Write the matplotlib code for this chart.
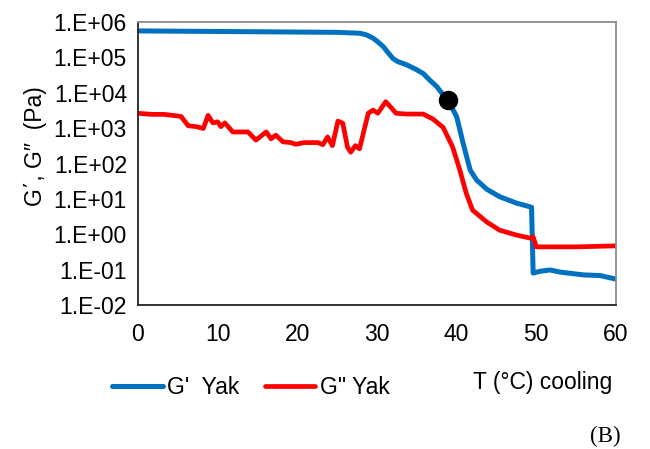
import numpy as np
import matplotlib
matplotlib.use("Agg")
import matplotlib.pyplot as plt
from matplotlib.ticker import FixedLocator

plt.rcParams['font.family'] = ['Liberation Sans', 'DejaVu Sans']

# storage modulus G' (Pa) vs temperature on cooling
t_g1 = [0, 5, 10, 15, 20, 25, 27.9, 28.7, 29.5, 30.1, 30.8, 31.4, 32.0, 32.6,
        33.7, 34.8, 35.8, 36.6, 37.5, 38.2, 38.9, 40.0, 40.4, 40.8, 41.7,
        42.5, 43.8, 45.4, 47.5, 49.4, 49.6, 50.5, 51.7, 53.0, 55.9, 58.0,
        60.0]
g1 = [5.6e5, 5.5e5, 5.4e5, 5.3e5, 5.2e5, 5.1e5, 4.8e5, 4.3e5, 3.5e5, 2.75e5,
      2.0e5, 1.35e5, 9.3e4, 7.6e4, 6.2e4, 4.7e4, 3.5e4, 2.3e4, 1.5e4, 9.3e3,
      6.3e3, 2.1e3, 9.0e2, 3.8e2, 65, 34, 18.6, 11.5, 7.6, 5.8, 0.08, 0.09,
      0.098, 0.085, 0.071, 0.068, 0.054]

# loss modulus G'' (Pa)
t_g2 = [0, 1.7, 3.3, 5.4, 6.3, 7.3, 8.2, 8.8, 9.4, 10.0, 10.4, 10.9, 11.9, 13.8,
        14.8, 16.1, 16.7, 17.3, 18.2, 19.2, 19.8, 20.9, 22.6, 23.2, 23.8, 24.4,
        25.1, 25.7, 26.3, 26.7, 27.3, 27.8, 28.9, 29.5, 30.1, 31.1, 32.4, 33.7,
        35.8, 37.0, 38.3, 39.5, 40.4, 41.2, 42.0, 43.8, 45.4, 47.5, 49.2, 49.6,
        50.0, 55.0, 60.0]
g2 = [2630, 2450, 2450, 2140, 1170, 1100, 980, 2290, 1410, 1510, 1100, 1410,
      780, 780, 460, 780, 500, 630, 410, 390, 350, 390, 390, 340, 560, 320,
      1580, 1380, 290, 210, 320, 260, 2630, 3240, 2630, 5600, 2630, 2500,
      2500, 1820, 1050, 290, 65, 14.5, 4.8, 2.2, 1.3, 0.95, 0.78, 0.83,
      0.44, 0.44, 0.47]

# gel point (crossover marker)
t_gel = 38.9
g_gel = 6.3e3

decades = [1e-2, 1e-1, 1e0, 1e1, 1e2, 1e3, 1e4, 1e5, 1e6]
decade_labels = ['1.E-02', '1.E-01', '1.E+00', '1.E+01', '1.E+02',
                 '1.E+03', '1.E+04', '1.E+05', '1.E+06']

fig = plt.figure(figsize=(6.5, 4.49), dpi=100)
ax = fig.add_axes([0.2123, 0.3207, 0.7354, 0.6303])

ax.plot(t_g1, g1, color='#0070C0', lw=3.6, solid_joinstyle='round',
        solid_capstyle='round', label="G'  Yak")
ax.plot(t_g2, g2, color='#FF0000', lw=3.4, solid_joinstyle='round',
        solid_capstyle='round', label='G" Yak')
ax.plot([t_gel], [g_gel], 'o', color='black', markersize=13, zorder=5)

ax.set_yscale('log')
ax.set_xlim(0, 60)
ax.set_ylim(1e-2, 1e6)
ax.set_xticks(range(0, 61, 10))
ax.yaxis.set_major_locator(FixedLocator(decades))
ax.yaxis.set_minor_locator(FixedLocator([]))
ax.set_yticklabels(decade_labels)
ax.tick_params(length=0, labelsize=16.5, pad=8)
ax.tick_params(axis='x', pad=13)

for side in ['top', 'right']:
    ax.spines[side].set_color('#8C8C8C')
for side in ['left', 'bottom']:
    ax.spines[side].set_color('#222222')
for s in ax.spines.values():
    s.set_linewidth(1.3)

ax.set_ylabel('G΄, G″  (Pa)', fontsize=16.5, labelpad=2)
ax.yaxis.set_label_coords(-0.19, 0.56)

fig.legend(loc='center left', bbox_to_anchor=(0.155, 0.137), ncol=2,
           frameon=False, fontsize=16.5, handlelength=2.2, handletextpad=0.2,
           columnspacing=1.1, borderpad=0)
fig.text(0.942, 0.148, 'T (°C) cooling', fontsize=16.5, ha='right', va='center')
fig.text(0.955, 0.027, '(B)', fontsize=16.5, ha='right', va='center',
         family='Liberation Serif')

fig.savefig('out.png', dpi=100)
